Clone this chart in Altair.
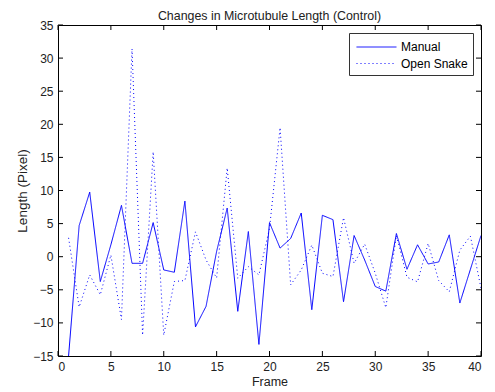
import altair as alt
import pandas as pd

frames = list(range(1, 41))
manual = [-15, 4.7, 9.75, -3.75, 1.8, 7.75, -1, -1, 5.15, -2, -2.35, 8.4, -10.6, -7.5, 0.8,
          7.35, -8.25, 3.8, -13.25, 5.15, 1.3, 2.75, 6.6, -8, 6.25, 5.6, -6.8, 3.2, -0.5, -4.5,
          -5.2, 3.5, -1.9, 1.8, -1.1, -0.8, 3.3, -7, -1.9, 3.2]
snake = [2.85, -7.6, -2.75, -5.75, 0.25, -9.5, 31.4, -11.85, 15.85, -11.85, -3.75, -3.6, 3.75,
         -0.5, -3.2, 13.4, -3.25, -1.5, -2.75, 4.25, 19.5, -4.25, -2.0, 1.75, -2.5, -3.0, 5.9,
         -1.0, 1.9, -2.5, -7.7, 3.2, -3.1, -3.8, 2.0, -3.6, -5.3, 1.0, 3.1, -4.75]
series_names = ["Manual", "Open Snake"]
x_ticks = list(range(0, 41, 5))
y_ticks = list(range(-15, 36, 5))

W, H = 423, 331
FONT = "Liberation Sans"
TXT = "#222222"

df = pd.DataFrame({
    "Frame": frames * 2,
    "Length": manual + snake,
    "Series": [series_names[0]] * len(frames) + [series_names[1]] * len(frames),
})
xt = pd.DataFrame({"t": x_ticks})
yt = pd.DataFrame({"t": y_ticks})

xs = alt.Scale(domain=[0, 40], nice=False, zero=False)
ys = alt.Scale(domain=[-15, 35], nice=False, zero=False)

ax_x = alt.Axis(values=x_ticks, ticks=False, domain=False, grid=False,
                labelPadding=5, labelOverlap=False, title="Frame", titlePadding=3,
                titleFontSize=12.5)
ax_y = alt.Axis(values=y_ticks, ticks=False, domain=False, grid=False,
                labelPadding=5, labelOverlap=False, title="Length (Pixel)",
                titlePadding=3, titleFontSize=13.5)

leg = alt.Legend(title=None, orient="top-right", offset=8)

lines = alt.Chart(df).mark_line(strokeWidth=1, clip=True).encode(
    x=alt.X("Frame:Q", scale=xs, axis=ax_x),
    y=alt.Y("Length:Q", scale=ys, axis=ax_y),
    color=alt.Color("Series:N", scale=alt.Scale(domain=series_names, range=["#0000ff", "#0000ff"]),
                    legend=leg),
    strokeDash=alt.StrokeDash("Series:N", scale=alt.Scale(domain=series_names, range=[[1, 0], [1, 3]]),
                              legend=leg),
)

tick_len = 5
xb = alt.Chart(xt).mark_rule(color="black", strokeWidth=1).encode(
    x=alt.X("t:Q", scale=xs, axis=ax_x), y=alt.value(H), y2=alt.value(H - tick_len))
xtop = alt.Chart(xt).mark_rule(color="black", strokeWidth=1).encode(
    x=alt.X("t:Q", scale=xs, axis=ax_x), y=alt.value(0), y2=alt.value(tick_len))
yl = alt.Chart(yt).mark_rule(color="black", strokeWidth=1).encode(
    y=alt.Y("t:Q", scale=ys, axis=ax_y), x=alt.value(0), x2=alt.value(tick_len))
yr = alt.Chart(yt).mark_rule(color="black", strokeWidth=1).encode(
    y=alt.Y("t:Q", scale=ys, axis=ax_y), x=alt.value(W), x2=alt.value(W - tick_len))

chart = alt.layer(lines, xb, xtop, yl, yr).properties(
    width=W, height=H,
    title=alt.TitleParams("Changes in Microtubule Length (Control)", fontSize=12.4,
                          fontWeight="normal", font=FONT, color=TXT, offset=-3,
                          frame="group"),
    padding={"left": 50, "top": 17, "right": 4, "bottom": 34},
    autosize=alt.AutoSizeParams(type="none"),
).configure_view(stroke="black", strokeWidth=1).configure_axis(
    labelFont=FONT, labelFontSize=12, labelColor=TXT, labelOverlap=False,
    titleFont=FONT, titleFontWeight="normal", titleColor=TXT,
).configure_legend(
    labelFont=FONT, labelFontSize=12, labelColor="#000000",
    strokeColor="#333333", fillColor="white", padding=5, rowPadding=1.5,
    symbolType="M-3.94,0H0.76", symbolSize=289, symbolStrokeWidth=1,
    symbolOffset=27, labelOffset=2, cornerRadius=0,
)

chart.save("out.html", embed_options={"renderer": "svg", "actions": False})
